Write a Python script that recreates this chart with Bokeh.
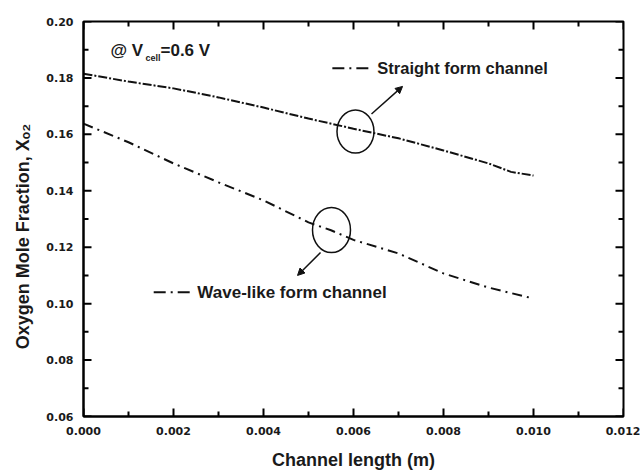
from bokeh.plotting import figure
from bokeh.models import (Range1d, FixedTicker, PrintfTickFormatter,
                          Label, Arrow, NormalHead, ColumnDataSource)
from bokeh.embed import file_html
from bokeh.resources import INLINE

# ---- data ----
x_straight = [0.000, 0.001, 0.002, 0.003, 0.004, 0.005, 0.006, 0.007, 0.008, 0.009, 0.0095, 0.010]
y_straight = [0.1815, 0.1787, 0.1763, 0.1731, 0.1695, 0.1656, 0.1620, 0.1586, 0.1543, 0.1497, 0.1467, 0.1454]

x_wave = [0.000, 0.001, 0.002, 0.003, 0.004, 0.005, 0.0055, 0.006, 0.007, 0.008, 0.009, 0.0099]
y_wave = [0.1638, 0.1572, 0.1497, 0.1430, 0.1366, 0.1288, 0.1260, 0.1226, 0.1178, 0.1107, 0.1057, 0.1022]

x_ticks = [0.000, 0.002, 0.004, 0.006, 0.008, 0.010, 0.012]
x_minor = [0.001, 0.003, 0.005, 0.007, 0.009, 0.011]
y_ticks = [0.06, 0.08, 0.10, 0.12, 0.14, 0.16, 0.18, 0.20]
y_minor = [0.07, 0.09, 0.11, 0.13, 0.15, 0.17, 0.19]

series_names = ["Straight form channel", "Wave-like form channel"]

X0, X1, Y0, Y1 = 0.0, 0.012, 0.06, 0.20
TICK_FONT = "DejaVu Sans"
FONT = "Liberation Sans"
TXT = "#1a1a1a"
INK = "#111111"

p = figure(width=640, height=474, output_backend="svg", toolbar_location=None,
           x_range=Range1d(X0, X1), y_range=Range1d(Y0, Y1),
           min_border_left=83, min_border_right=17, min_border_top=21, min_border_bottom=58)
p.xgrid.visible = False
p.ygrid.visible = False
p.outline_line_color = "black"
p.outline_line_width = 2
p.background_fill_color = "white"
p.border_fill_color = "white"

for ax in (p.xaxis[0], p.yaxis[0]):
    ax.axis_line_width = 2
    ax.axis_line_color = "black"
    ax.major_tick_line_color = None
    ax.minor_tick_line_color = None
    ax.major_tick_in = 0
    ax.major_tick_out = 0
    ax.minor_tick_in = 0
    ax.minor_tick_out = 0
    ax.major_label_text_font = TICK_FONT
    ax.major_label_text_font_style = "bold"
    ax.major_label_text_font_size = "11px"
    ax.major_label_text_color = TXT

p.xaxis.ticker = FixedTicker(ticks=x_ticks, minor_ticks=x_minor)
p.xaxis.formatter = PrintfTickFormatter(format="%.3f")
p.xaxis.major_label_standoff = 10
p.yaxis.ticker = FixedTicker(ticks=y_ticks, minor_ticks=y_minor)
p.yaxis.formatter = PrintfTickFormatter(format="%.2f")
p.yaxis.major_label_standoff = 10

p.xaxis.axis_label = "Channel length (m)"
p.xaxis.axis_label_text_font = FONT
p.xaxis.axis_label_text_font_style = "bold"
p.xaxis.axis_label_text_font_size = "18px"
p.xaxis.axis_label_text_color = TXT
p.xaxis.axis_label_standoff = 12

NBSP = "\u00a0"
p.yaxis.axis_label = "Oxygen Mole Fraction, X\u2092\u2082" + NBSP * 7
p.yaxis.axis_label_text_font = FONT
p.yaxis.axis_label_text_font_style = "bold"
p.yaxis.axis_label_text_font_size = "18px"
p.yaxis.axis_label_text_color = TXT
p.yaxis.axis_label_standoff = 10

# ---- inward ticks on all four sides (8 px major, 5 px minor) ----
ky = (Y1 - Y0) / 395.0   # data per pixel (vertical)
kx = (X1 - X0) / 540.0   # data per pixel (horizontal)
MAJ, MNR, HW = 8, 5, 1.0
L_, R_, B_, T_ = [], [], [], []
for t in x_ticks + x_minor:
    L = MAJ if t in x_ticks else MNR
    L_ += [t - HW * kx, t - HW * kx]
    R_ += [t + HW * kx, t + HW * kx]
    B_ += [Y0, Y1 - L * ky]
    T_ += [Y0 + L * ky, Y1]
for t in y_ticks + y_minor:
    L = MAJ if t in y_ticks else MNR
    L_ += [X0, X1 - L * kx]
    R_ += [X0 + L * kx, X1]
    B_ += [t - HW * ky, t - HW * ky]
    T_ += [t + HW * ky, t + HW * ky]
tick_src = ColumnDataSource(dict(left=L_, right=R_, bottom=B_, top=T_))
p.quad(left="left", right="right", bottom="bottom", top="top", source=tick_src,
       fill_color="black", line_color=None)

# ---- curves ----
src_s = ColumnDataSource(dict(x=x_straight, y=y_straight))
src_w = ColumnDataSource(dict(x=x_wave, y=y_wave))
p.line("x", "y", source=src_s, line_color=INK, line_width=2, line_dash="9 2 2 2")
p.line("x", "y", source=src_w, line_color=INK, line_width=2, line_dash="10 5 2 5")

# ---- legend-like annotations ----
p.line([0.00553, 0.0064], [0.1834, 0.1834], line_color=INK, line_width=2, line_dash="12 5 2 5")
p.add_layout(Label(x=0.00653, y=0.1834, text=series_names[0], text_font=FONT,
                   text_font_style="bold", text_font_size="16.5px", text_color=TXT,
                   text_baseline="middle"))
p.line([0.00156, 0.00244], [0.1040, 0.1040], line_color=INK, line_width=2, line_dash="12 5 2 5")
p.add_layout(Label(x=0.00253, y=0.1040, text=series_names[1], text_font=FONT,
                   text_font_style="bold", text_font_size="17px", text_color=TXT,
                   text_baseline="middle"))

# circles and arrows
p.ellipse(x=[0.006044, 0.005511], y=[0.1610, 0.1261], width=[0.000822, 0.000844],
          height=[0.01524, 0.01595], fill_color=None, line_color=INK, line_width=1.5)
p.add_layout(Arrow(end=NormalHead(size=7, fill_color=INK, line_color=INK),
                   x_start=0.0064, y_start=0.1672, x_end=0.00709, y_end=0.1770,
                   line_width=1.5, line_color=INK))
p.add_layout(Arrow(end=NormalHead(size=7, fill_color=INK, line_color=INK),
                   x_start=0.005267, y_start=0.1181, x_end=0.004756, y_end=0.1100,
                   line_width=1.5, line_color=INK))

# @ V_cell = 0.6 V
p.add_layout(Label(x=0.0006, y=0.1897, text="@ V", text_font=FONT, text_font_style="bold",
                   text_font_size="17px", text_color=TXT, text_baseline="middle"))
p.add_layout(Label(x=0.001378, y=0.1869, text="cell", text_font=FONT, text_font_style="bold",
                   text_font_size="9px", text_color=TXT, text_baseline="middle"))
p.add_layout(Label(x=0.001711, y=0.1897, text="=0.6 V", text_font=FONT, text_font_style="bold",
                   text_font_size="17px", text_color=TXT, text_baseline="middle"))

open("out.html", "w").write(file_html(p, INLINE))
